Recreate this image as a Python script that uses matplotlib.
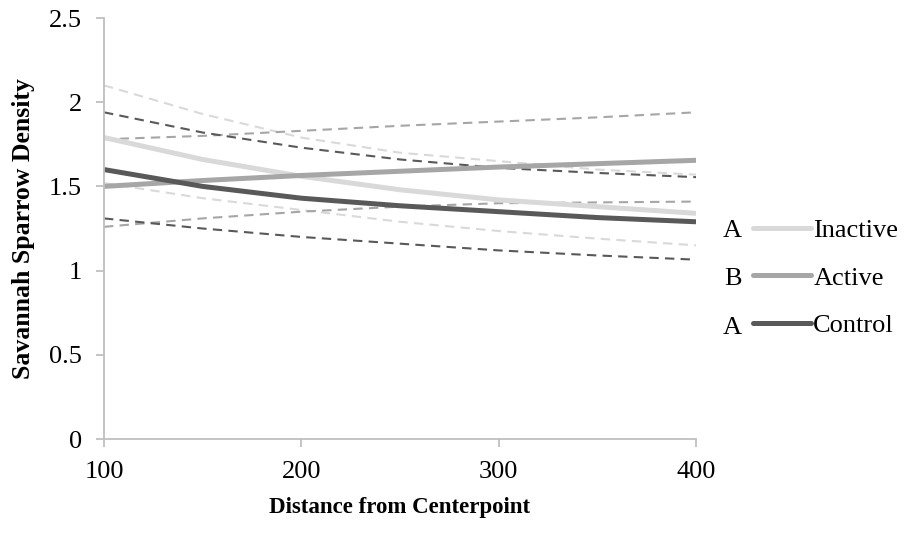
import numpy as np
import matplotlib.pyplot as plt

plt.rcParams['font.family'] = ['Liberation Serif', 'DejaVu Serif']

distance = [100, 150, 200, 250, 300, 350, 400]

# fitted density and 95% bounds per treatment
inactive = [1.79, 1.66, 1.56, 1.48, 1.42, 1.38, 1.34]
inactive_hi = [2.10, 1.93, 1.79, 1.70, 1.65, 1.60, 1.57]
inactive_lo = [1.52, 1.43, 1.36, 1.29, 1.235, 1.19, 1.15]

active = [1.50, 1.535, 1.565, 1.59, 1.615, 1.635, 1.655]
active_hi = [1.78, 1.80, 1.83, 1.86, 1.885, 1.91, 1.94]
active_lo = [1.26, 1.31, 1.35, 1.38, 1.40, 1.405, 1.41]

control = [1.60, 1.50, 1.43, 1.385, 1.35, 1.315, 1.29]
control_hi = [1.94, 1.82, 1.73, 1.66, 1.61, 1.58, 1.555]
control_lo = [1.31, 1.25, 1.20, 1.16, 1.12, 1.09, 1.065]

labels = ["Inactive", "Active", "Control"]
letters = ["A", "B", "A"]
colors = ["#d9d9d9", "#a6a6a6", "#595959"]

fig = plt.figure(figsize=(9.09, 5.39), dpi=100)
ax = fig.add_axes([0.1144, 0.1855, 0.6513, 0.7811])

fits = [inactive, active, control]
his = [inactive_hi, active_hi, control_hi]
los = [inactive_lo, active_lo, control_lo]

for hi, lo, c in zip(his, los, colors):
    for band in (hi, lo):
        ax.plot(distance, band, color=c, lw=1.5, ls=(0, (4.5, 3)))
handles = []
for fit, c, lab in zip(fits, colors, labels):
    h, = ax.plot(distance, fit, color=c, lw=3.6, label=lab, solid_capstyle='butt')
    handles.append(h)

ax.set_xlim(100, 400)
ax.set_ylim(0, 2.5)
ax.set_xticks([100, 200, 300, 400])
ax.set_yticks([0, 0.5, 1, 1.5, 2, 2.5])
ax.set_yticklabels(["0", "0.5", "1", "1.5", "2", "2.5"])
for s in ["top", "right"]:
    ax.spines[s].set_visible(False)
for s in ["left", "bottom"]:
    ax.spines[s].set_color("#bfbfbf")
    ax.spines[s].set_linewidth(1.3)
ax.tick_params(colors="#bfbfbf", labelcolor="black", labelsize=19, length=6, width=1.3)
ax.tick_params(axis="y", pad=10)
ax.tick_params(axis="x", pad=10)

ax.set_xlabel("Distance from Centerpoint", fontsize=16.5, fontweight="bold", labelpad=10)
ax.set_ylabel("Savannah Sparrow Density", fontsize=18.5, fontweight="bold", labelpad=10)

fig.legend(handles=handles, loc="upper left", bbox_to_anchor=(0.828, 0.594),
           frameon=False, fontsize=19, handlelength=2.2, handletextpad=0.1,
           labelspacing=0.9, borderpad=0, borderaxespad=0)
for line in fig.legends[0].get_lines():
    line.set_solid_capstyle('round')

row_y = [0.572, 0.482, 0.391]
for letter, y in zip(letters, row_y):
    fig.text(0.806, y, letter, fontsize=19, ha="center", va="center")

fig.savefig("out.png", dpi=100)
